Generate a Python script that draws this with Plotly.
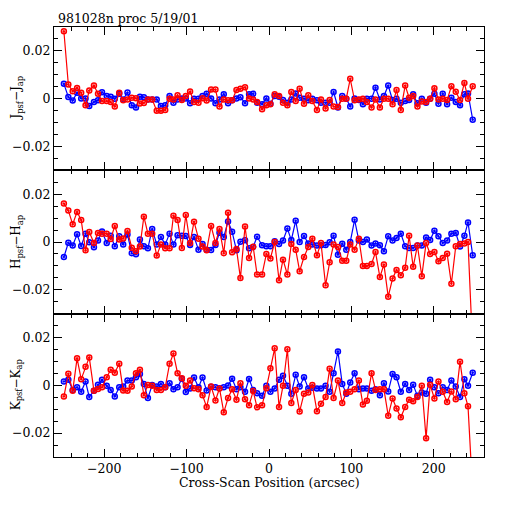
import plotly.graph_objects as go
from plotly.subplots import make_subplots

# cross-scan positions (arcsec), shared by both scans and all three bands
pos = [-249, -243.6, -238.3, -233, -228, -222.7, -218.2, -212.5, -207.6, -202.7,
       -197, -192.2, -187.2, -181.8, -177, -171.8, -166.6, -161.5, -156.7, -151.9,
       -147, -141.8, -136.3, -131.2, -126, -120.7, -116, -111, -105.8, -101,
       -95.8, -91, -85.6, -80.7, -75.7, -70.3, -65, -60.1, -54.9, -49.7,
       -44.8, -39.5, -34.7, -29.1, -24.2, -19.2, -14.5,
       -8.4, -3.2, 1.7, 6.9, 12.2, 17, 22.3, 27.1, 32.4, 37.2,
       42.5, 47.7, 52.6, 58.2, 63.1, 68.7, 73.6, 78.4, 83.7, 88.9,
       93.8, 98.6, 103.9, 109.1, 114, 118.8, 124.5, 129.3, 134.6, 139.5,
       144.7, 150, 154.8, 160, 165.3, 170.1, 175, 180.2, 185.5, 190.7,
       195.6, 200.8, 205.7, 210.9, 216.2, 221.4, 226.7, 231.9, 237.2, 241.6, 247.3]

j_red = [0.0282, 0.0059, 0.0031, 0.0045, 0.0025, -0.0028, 0.0034, 0.0055, 0.0021, -0.001,
         -0.001, -0.0014, -0.0033, 0.0025, -0.0007, -0.0003, 0.0004, 0.0002, -0.002, -0.0018,
         -0.0003, -0.0003, -0.0051, -0.0051, -0.0047, 0, -0.0003, 0.0014, -0.0006, 0.0011,
         0.003, -0.0014, -0.0017, 0.0002, -0.0008, 0.0038, 0.0038, -0.0033, -0.0003, -0.0007,
         -0.0007, 0.0036, 0.0041, 0.0048, 0.0001, -0.0003, -0.0014,
         -0.0044, -0.0028, -0.0023, 0.0018, 0.0011, -0.0017, -0.0028, 0.0028, -0.001, 0.0041,
         -0.0021, 0.0014, -0.001, -0.0047, -0.0003, -0.0041, -0.0006, -0.0033, -0.0035, 0,
         0, 0.0083, -0.0007, -0.0003, 0, -0.0014, -0.0037, -0.0003, -0.0037, 0,
         0, -0.0023, 0.0036, -0.0047, 0.0055, 0.0004, 0.0011, -0.0033, -0.0012, -0.0014,
         0, 0.0044, -0.0003, 0, -0.0006, 0.0052, 0.0029, -0.0006, 0.0066, 0, 0.0052]
j_blue = [0.0062, 0.0007, -0.0008, 0.0025, 0.0001, 0.0001, -0.0031, -0.0014, -0.0007, 0.0027,
          0.0011, 0.0008, 0, 0.0021, -0.0003, 0.0026, -0.0028, -0.0037, 0.0008, 0.0006,
          -0.0003, -0.0003, -0.0003, -0.0031, -0.0028, 0.0011, -0.0017, -0.0003, 0.0001, 0.0001,
          -0.0019, 0, 0, 0.0011, 0.0021, 0.0001, -0.0019, -0.0003, 0.0019, -0.0019,
          -0.0007, 0.0001, 0.0006, -0.0019, 0.0019, 0.0021, -0.0017,
          -0.0023, 0.0001, -0.0021, 0.0011, 0.0008, -0.0006, -0.0017, -0.0003, 0.0022, 0.0004,
          0, -0.0007, 0, -0.0007, -0.0017, -0.0017, -0.0017, 0.0028, -0.0037, 0.0011,
          0, -0.0033, 0.0001, -0.0006, -0.0023, 0, 0, 0.0046, -0.0003, 0.0011,
          0.0055, -0.0006, 0, -0.0017, -0.001, -0.0006, 0.0018, -0.0019, 0, -0.0017,
          0, 0.0021, -0.0021, 0.0021, -0.0023, 0.0004, -0.0014, -0.0028, 0.0018, 0.0022, -0.0088]

h_red = [0.0161, 0.0132, 0.0074, 0.0126, 0.0092, -0.0035, 0.0042, -0.0004, 0.0038, 0.0035,
         0.0035, 0.0013, 0.0067, 0.001, 0.0015, 0.0046, -0.0024, -0.0039, -0.0019, 0.0106,
         0.0035, 0.0035, -0.0057, -0.0011, -0.0026, -0.0026, 0.011, 0.0092, -0.0025, 0.0113,
         -0.0004, 0.0085, 0.0014, -0.0019, -0.0035, 0.0067, -0.0004, 0.0054, -0.0047, 0.0122,
         -0.0043, -0.0029, -0.0151, 0.0065, -0.0067, -0.002, -0.0136,
         -0.0136, -0.005, -0.0069, 0, -0.016, -0.0074, -0.0136, -0.0008, -0.0032, -0.0122,
         -0.0063, -0.0021, 0.0014, -0.0056, -0.0004, -0.0181, -0.0085, -0.0011, -0.0021, -0.0078,
         -0.0078, -0.0011, -0.0032, 0.0014, -0.0101, -0.0101, -0.0092, -0.0042, -0.0147, -0.0094,
         -0.0229, -0.0153, -0.0117, -0.0139, -0.0108, 0.0026, -0.0104, -0.0015, -0.0143, -0.0004,
         -0.005, -0.0042, -0.0081, -0.0067, -0.0049, -0.0175, -0.0018, -0.0008, -0.0006, 0, -0.045]
h_blue = [-0.0063, -0.0003, -0.0015, 0.0032, -0.0017, 0.0035, -0.0001, -0.0022, 0.0006, 0.0044,
          -0.0004, 0.0026, -0.0018, 0.0024, -0.001, 0.0031, -0.0047, -0.0051, 0.001, -0.0018,
          -0.0026, 0.0054, -0.001, 0.0021, -0.001, 0.0035, -0.0011, 0.0028, 0.0026, 0.0025,
          -0.0013, 0.0021, -0.0032, -0.0008, -0.0032, -0.0033, -0.0013, 0.0039, 0.0021, 0.0086,
          0.0043, -0.0035, 0.0001, 0.0007, -0.0026, -0.0021, 0.0022,
          -0.0014, -0.0018, -0.0018, 0.0003, -0.0008, 0.0006, 0.0056, 0.0008, 0.0089, 0,
          0.0025, -0.0006, -0.0011, -0.0015, -0.0014, -0.0013, -0.0001, 0.0026, -0.0053, -0.0007,
          -0.0032, 0, 0.0093, 0.0006, 0, 0.001, -0.0015, -0.0006, -0.0014, -0.0039,
          0.0024, 0.0006, 0.0017, 0.0035, -0.0018, -0.0025, -0.0025, -0.0015, -0.0015, 0.0019,
          0.0008, 0.0047, 0.0024, -0.0004, 0.0006, 0.0035, 0.0038, -0.0019, 0.0026, 0.0082, -0.0056]

k_red = [-0.0047, 0.0048, -0.0023, 0.0113, 0.0026, 0.0078, 0.0117, -0.0023, -0.0015, -0.0008,
         0.0034, 0.0065, 0.0053, 0.009, -0.0022, -0.0023, -0.0005, 0.0051, 0.0065, -0.0041,
         0.0001, -0.0002, -0.0019, -0.0019, -0.0008, 0.009, 0.0133, 0.0051, 0.003, -0.0002,
         0.002, -0.0012, -0.0016, -0.0041, -0.0091, -0.0005, -0.0063, -0.0013, -0.0113, -0.0053,
         -0.0016, -0.006, 0.0009, -0.0058, -0.0083, -0.0024, -0.0092,
         -0.0083, -0.0012, 0.0072, 0.0155, -0.0091, -0.0002, 0.0151, -0.0074, -0.0019, -0.0109,
         -0.0035, -0.003, 0.0001, -0.0108, -0.0077, -0.0049, 0.0069, -0.0053, 0.002, -0.0074,
         -0.003, -0.0027, -0.0016, 0.002, -0.008, -0.0065, 0.0051, -0.0019, -0.0016, -0.0016,
         -0.0127, -0.0055, -0.0097, -0.0134, -0.0091, -0.006, -0.0067, -0.0049, -0.0002, -0.0222,
         0.0002, -0.0055, 0.0016, -0.0027, -0.007, -0.0026, -0.0058, 0.0099, -0.0033, -0.0088, -0.045]
k_blue = [0.0016, 0.0023, -0.0019, -0.0008, -0.0027, 0.0016, -0.0049, -0.0023, 0.0002, 0.0023,
          -0.0002, -0.0019, -0.0047, -0.0008, -0.0005, 0.002, 0.002, 0.0034, 0.0047, 0.0006,
          -0.0053, 0.0001, -0.0005, 0.0006, -0.0008, 0.0009, -0.0016, -0.0008, 0.0028, -0.0028,
          -0.0013, 0.0033, -0.0008, 0.0033, -0.0022, -0.0006, -0.0008, -0.0012, -0.0008, -0.0001,
          0.0028, -0.0016, -0.0008, -0.0027, 0.0027, -0.0019, -0.0033,
          -0.0044, -0.0002, -0.0027, -0.0013, 0.0023, 0.004, -0.0002, -0.0035, 0.0044, -0.0005,
          0.0034, -0.0013, -0.001, -0.0013, -0.0013, -0.0002, -0.0027, 0.0051, 0.0142, 0.0006,
          -0.0035, 0.0012, 0.0051, -0.0016, -0.0013, -0.0013, -0.0023, -0.0016, -0.0041, 0.0009,
          -0.0026, 0.0047, 0.0034, -0.0027, 0.0006, -0.0019, 0.0002, -0.0044, -0.003, -0.0035,
          0.0023, -0.0008, -0.0033, -0.0008, -0.0019, 0.002, -0.0005, -0.0049, 0.0026, -0.0002, 0.0053]

panels = [
    ("J<sub>psf</sub>\u2212J<sub>ap</sub>", j_red, j_blue),
    ("H<sub>psf</sub>\u2212H<sub>ap</sub>", h_red, h_blue),
    ("K<sub>psf</sub>\u2212K<sub>ap</sub>", k_red, k_blue),
]

font = "DejaVu Serif"
black = "black"

fig = make_subplots(rows=3, cols=1, shared_xaxes=True, vertical_spacing=0)

for i, (label, red, blue) in enumerate(panels, start=1):
    for vals, col in [(blue, "#0000ff"), (red, "#ff0000")]:
        fig.add_trace(go.Scatter(x=pos, y=vals, mode="lines+markers",
                                 line=dict(color=col, width=1.2),
                                 marker=dict(symbol="circle-open-dot", size=5, color=col,
                                             line=dict(width=1.5, color=col)),
                                 showlegend=False), row=i, col=1)
    fig.update_yaxes(range=[-0.03, 0.03], dtick=0.02, tick0=0, ticks="inside", ticklen=8,
                     minor=dict(ticks="inside", dtick=0.005, ticklen=4, tickcolor=black),
                     showline=True, linecolor=black, linewidth=1.3, mirror="ticks",
                     showgrid=False, zeroline=False, tickcolor=black, automargin=False,
                     tickfont=dict(family=font, size=12.5, color=black),
                     row=i, col=1)
    fig.update_xaxes(range=[-261, 261], dtick=100, tick0=0, ticks="inside", ticklen=8,
                     minor=dict(ticks="inside", dtick=20, ticklen=4, tickcolor=black),
                     showline=True, linecolor=black, linewidth=1.3, mirror="ticks",
                     showgrid=False, zeroline=False, tickcolor=black, automargin=False,
                     tickfont=dict(family=font, size=12.5, color=black),
                     row=i, col=1)
    # y label of each panel, centred on that panel
    yref = "y domain" if i == 1 else f"y{i} domain"
    fig.add_annotation(text=label, xref="paper", yref=yref, x=0, y=0.5, xshift=-37,
                       xanchor="center", yanchor="middle", textangle=-90, showarrow=False,
                       font=dict(family=font, size=12, color=black))

fig.add_annotation(text="Cross-Scan Position (arcsec)", xref="paper", yref="paper",
                   x=0.5, y=0, yshift=-25, xanchor="center", yanchor="middle",
                   showarrow=False, font=dict(family=font, size=12.5, color=black))

fig.add_annotation(text="981028n proc 5/19/01", xref="paper", yref="paper", x=0, y=1,
                   xanchor="left", yanchor="bottom", xshift=2, yshift=-1, showarrow=False,
                   font=dict(family=font, size=12.5, color=black))

# the page adds ~8 px of body margin, so the margins are offset to land the frame
# where the reference has it (54..484 across, 27..457 down)
fig.update_layout(width=512, height=512, margin=dict(l=46, r=36, t=19, b=63),
                  plot_bgcolor="white", paper_bgcolor="white")

fig.write_html("out.html")
